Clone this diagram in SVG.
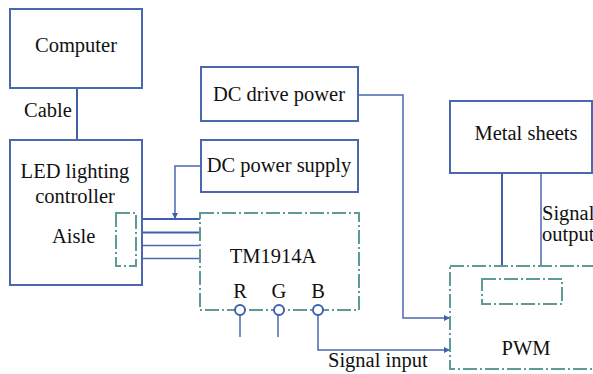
<svg xmlns="http://www.w3.org/2000/svg" width="593" height="374" viewBox="0 0 593 374" font-family="'Liberation Serif', 'DejaVu Serif', serif">
<defs>
<style>
.box{fill:#fff;stroke:#4a68b0;stroke-width:2}
.dd{fill:none;stroke:#5e9a98;stroke-width:2;stroke-dasharray:14 3 2 3}
.ln{fill:none;stroke:#4060ad;stroke-width:2}
.lt{fill:none;stroke:#4a68b0;stroke-width:1.5}
text{font-family:'Liberation Serif', serif;font-size:20.5px;fill:#111}
</style>
<marker id="ar" viewBox="0 0 6 6" refX="5" refY="3" markerWidth="4" markerHeight="4" orient="auto"><path d="M0,0 L6,3 L0,6 z" fill="#4060ad"/></marker>
</defs>
<g id="connectors">
<line class="ln" x1="77" y1="88" x2="77" y2="140"/>
<line class="ln" x1="142" y1="219" x2="200" y2="219"/>
<line class="ln" x1="142" y1="232.5" x2="200" y2="232.5"/>
<line class="lt" x1="142" y1="245.5" x2="200" y2="245.5"/>
<line class="lt" x1="142" y1="258.5" x2="200" y2="258.5"/>
<line class="lt" x1="102" y1="238" x2="114" y2="238"/>
<polyline class="lt" points="200,166 175,166 175,218" marker-end="url(#ar)"/>
<polyline class="lt" points="358,95 403,95 403,318 449,318" marker-end="url(#ar)"/>
<polyline class="lt" points="318,315 318,350 449,350" marker-end="url(#ar)"/>
<line class="lt" x1="240" y1="315" x2="240" y2="337"/>
<line class="lt" x1="278" y1="315" x2="278" y2="337"/>
<line class="ln" x1="502" y1="173" x2="502" y2="266"/>
<line class="lt" x1="541" y1="173" x2="541" y2="266"/>
</g>
<g id="computer"><rect class="box" x="10" y="9" width="132" height="79"/><text x="76" y="52" text-anchor="middle">Computer</text></g>
<g id="cable-label"><text x="24" y="117">Cable</text></g>
<g id="led-controller"><rect class="box" x="10" y="140" width="132" height="145"/><text x="75" y="178" text-anchor="middle">LED lighting</text><text x="75" y="203" text-anchor="middle">controller</text><text x="52" y="243">Aisle</text></g>
<g id="aisle"><rect class="dd" x="116" y="213" width="20" height="53"/></g>
<g id="dc-drive-power"><rect class="box" x="201" y="67" width="157" height="54"/><text x="279" y="101" text-anchor="middle">DC drive power</text></g>
<g id="dc-power-supply"><rect class="box" x="201" y="140" width="157" height="52"/><text x="279" y="172" text-anchor="middle">DC power supply</text></g>
<g id="tm1914a"><rect class="dd" x="200" y="213" width="159" height="97"/><text x="273" y="263" text-anchor="middle">TM1914A</text><text x="240" y="298" text-anchor="middle">R</text><text x="279" y="298" text-anchor="middle">G</text><text x="318" y="298" text-anchor="middle">B</text>
<circle cx="240" cy="310" r="5" fill="#fff" stroke="#4060ad" stroke-width="2"/><circle cx="279" cy="310" r="5" fill="#fff" stroke="#4060ad" stroke-width="2"/><circle cx="318" cy="310" r="5" fill="#fff" stroke="#4060ad" stroke-width="2"/></g>
<g id="metal-sheets"><rect class="box" x="450" y="101" width="142" height="72"/><text x="526" y="140" text-anchor="middle">Metal sheets</text></g>
<g id="signal-output"><text x="542" y="220">Signal</text><text x="542" y="241">output</text></g>
<g id="pwm"><rect class="dd" x="450" y="266" width="160" height="103"/><rect class="dd" x="482" y="279" width="80" height="25"/><text x="526" y="355" text-anchor="middle">PWM</text></g>
<g id="signal-input"><text x="328" y="367">Signal input</text></g>
</svg>
